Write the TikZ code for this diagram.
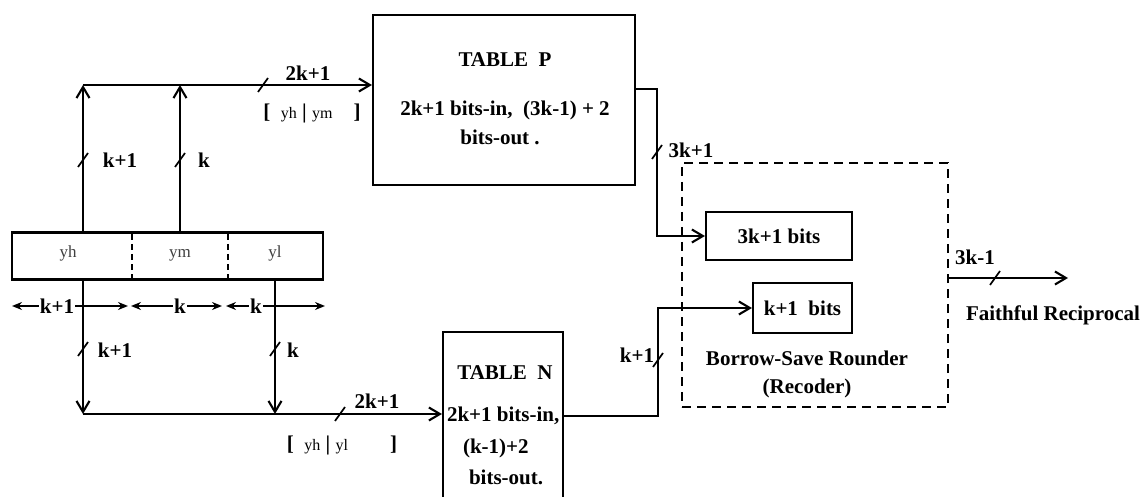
\documentclass[tikz,border=0pt]{standalone}
\usepackage{fontspec}
\setmainfont{Liberation Serif}
\usetikzlibrary{arrows.meta}
\begin{document}
\begin{tikzpicture}[x=1pt,y=-1pt,
  line width=2.1pt,
  >={Straight Barb[length=11pt,width=13pt]},
  box/.style={draw, line width=2.1pt, inner sep=0pt},
  lbl/.style={font=\bfseries\fontsize{21}{24}\selectfont, inner sep=1pt},
  reglbl/.style={font=\fontsize{17}{19}\selectfont, text=black!75, inner sep=1pt},
  dim/.style={line width=1.5pt, {Stealth[length=10pt,width=8pt]}-{Stealth[length=10pt,width=8pt]}},
  divider/.style={line width=2.1pt, dash pattern=on 6pt off 4pt},
  rounder/.style={box, dash pattern=on 9pt off 6pt},
  bus/.pic={\draw[line width=1.7pt] (-5,7) -- (5,-7);}
]
\useasboundingbox (0,0) rectangle (1146,497);

% register
\node[box, minimum width=311pt, minimum height=47pt] (reg) at (167.5,256) {};
\draw[divider] (132,234) -- (132,278);
\draw[divider] (228,234) -- (228,278);
\node[reglbl] (lyh) at (68,253) {yh};
\node[reglbl] (lym) at (180,255) {ym};
\node[reglbl] (lyl) at (275,253) {yl};

% tables
\node[box, minimum width=262pt, minimum height=170pt] (P) at (504,100) {};
\node[lbl] (Pt) at (505,60) {TABLE\ \ P};
\node[lbl] (Pa) at (505,110) {2k+1 bits-in,\ \ (3k-1) + 2};
\node[lbl] (Pb) at (500,137) {bits-out .};

\node[box, minimum width=120pt, minimum height=180pt] (N) at (503,422) {};
\node[lbl] (Nt) at (505,373) {TABLE\ \ N};
\node[lbl, anchor=west] (Na) at (445,416) {2k+1 bits-in,};
\node[lbl, anchor=west] (Nb) at (461,448) {(k-1)+2};
\node[lbl, anchor=west] (Nc) at (467,477) {bits-out.};

% rounder
\node[rounder, minimum width=266pt, minimum height=244pt] (R) at (815,285) {};
\node[box, lbl, minimum width=146pt, minimum height=48pt] (B3) at (779,236) {3k+1 bits};
\node[box, lbl, minimum width=99pt, minimum height=50pt] (B1) at (802.5,308) {k+1\ \ bits};
\node[lbl] (Rt) at (807,358) {Borrow-Save Rounder};
\node[lbl] (Rr) at (807,388) {(Recoder)};

% upper path
\coordinate (tA) at (83,85);
\coordinate (tB) at (180,85);
\draw[->] (reg.north -| tA) -- (tA);
\draw[->] (reg.north -| tB) -- (tB);
\draw[->] (tA) -- (tA -| P.west);
\pic at (83,160) {bus};
\pic at (180,160) {bus};
\pic at (263,85) {bus};
\node[lbl] (l1) at (120,160) {k+1};
\node[lbl] (l2) at (204,160) {k};
\node[lbl] (l3) at (308,73) {2k+1};
\node[lbl] (l4) at (312,113) {[\enspace{\mdseries\fontsize{16}{18}\selectfont yh}\ \textbar\ {\mdseries\fontsize{16}{18}\selectfont ym}\quad]};

% dimensions
\draw[dim] (12,306) -- (128,306);
\draw[dim] (131,306) -- (222,306);
\draw[dim] (226,306) -- (325,306);
\node[lbl, fill=white] (d1) at (57,306) {k+1};
\node[lbl, fill=white] (d2) at (180,306) {k};
\node[lbl, fill=white] (d3) at (256,306) {k};

% lower path
\coordinate (bA) at (83,414);
\coordinate (bB) at (275,414);
\draw[->] (reg.south -| bA) -- (bA);
\draw[->] (reg.south -| bB) -- (bB);
\draw[->] (bA) -- (bA -| N.west);
\pic at (83,349) {bus};
\pic at (275,349) {bus};
\pic at (340,414) {bus};
\node[lbl] (l5) at (115,350) {k+1};
\node[lbl] (l6) at (293,350) {k};
\node[lbl] (l7) at (377,401) {2k+1};
\node[lbl] (l8) at (342,445) {[\enspace{\mdseries\fontsize{16}{18}\selectfont yh}\ \textbar\ {\mdseries\fontsize{16}{18}\selectfont yl}\qquad]};

% to rounder
\coordinate (pc) at (657,89);
\coordinate (pd) at (657,236);
\draw[->] (P.east |- pc) -- (pc) -- (pd) -- (B3.west);
\pic at (657,152) {bus};
\node[lbl] (l9) at (691,150) {3k+1};

\coordinate (nc) at (658,416);
\coordinate (nd) at (658,308);
\draw[->] (N.east |- nc) -- (nc) -- (nd) -- (B1.west);
\pic at (658,360) {bus};
\node[lbl] (l10) at (637,355) {k+1};

% output
\coordinate (oe) at (1068,278);
\draw[->] (R.east |- oe) -- (oe);
\pic at (995,278) {bus};
\node[lbl] (l11) at (975,257) {3k-1};
\node[lbl] (l12) at (1053,315) {Faithful Reciprocal};
\end{tikzpicture}
\end{document}
